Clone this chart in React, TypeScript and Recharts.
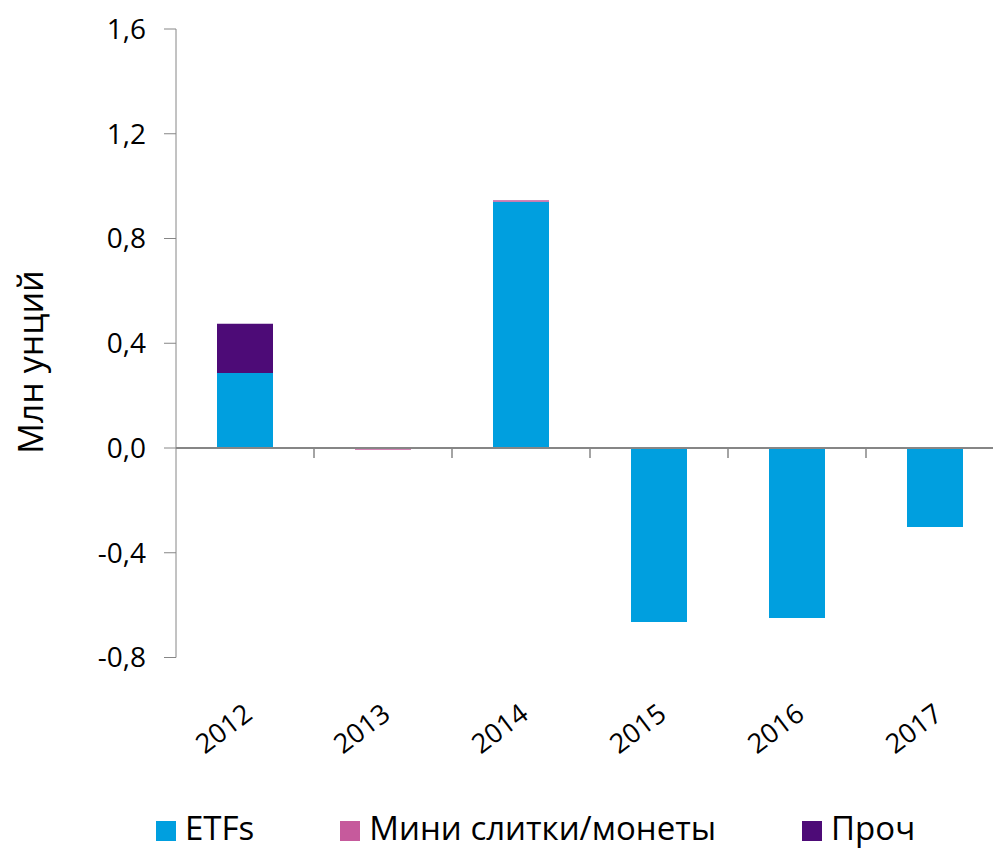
import { BarChart, Bar, XAxis, YAxis, ReferenceLine } from 'recharts';

const years = ['2012', '2013', '2014', '2015', '2016', '2017'];
const etfs = [0.286, 0, 0.94, -0.664, -0.649, -0.302];
const mini = [-0.004, -0.007, 0.006, 0, 0, 0];
const other = [0.188, 0, 0, 0, 0, 0];
const yTicks = [-0.8, -0.4, 0, 0.4, 0.8, 1.2, 1.6];

const SERIES = [
  { key: 'etfs', name: 'ETFs', color: '#009FDF' },
  { key: 'mini', name: 'Мини слитки/монеты', color: '#C65A9C' },
  { key: 'other', name: 'Проч', color: '#4D0B77' },
];

const AXIS = '#868686';
const FONT = '"Open Sans", sans-serif';

const data = years.map((year, i) => ({
  year,
  etfs: etfs[i],
  mini: mini[i],
  other: other[i],
}));

const ZeroLine = (props: any) => {
  const { x1, x2, y1 } = props;
  const step = (x2 - x1) / years.length;
  return (
    <g>
      <line x1={x1} x2={x2 - 11} y1={y1} y2={y1} stroke={AXIS} strokeWidth={2} />
      {years.slice(1).map((_, i) => (
        <line
          key={i}
          x1={x1 + step * (i + 1)}
          x2={x1 + step * (i + 1)}
          y1={y1}
          y2={y1 + 10}
          stroke={AXIS}
          strokeWidth={1.5}
        />
      ))}
    </g>
  );
};

const YearTick = ({ x, y, payload }: any) => (
  <g transform={`translate(${x + 9},${y + 52})`}>
    <text
      textAnchor="end"
      transform="rotate(-37)"
      fontSize={27}
      fontFamily={FONT}
      fill="#000"
    >
      {payload.value}
    </text>
  </g>
);

export default function App() {
  return (
    <div
      style={{
        position: 'absolute',
        left: 0,
        top: 0,
        width: 997,
        height: 851,
        overflow: 'hidden',
        background: '#fff',
      }}
    >
      <BarChart
        width={1010}
        height={851}
        data={data}
        stackOffset="sign"
        barSize={56}
        margin={{ top: 29, right: 6, bottom: 0, left: 0 }}
      >
        <XAxis
          dataKey="year"
          height={193.5}
          axisLine={false}
          tickLine={false}
          tick={<YearTick />}
          interval={0}
        />
        <YAxis
          width={176}
          domain={[-0.8, 1.6]}
          ticks={yTicks}
          allowDataOverflow
          stroke={AXIS}
          tickSize={12}
          tickMargin={18}
          tick={{ fill: '#000', fontSize: 28, fontFamily: FONT }}
          tickFormatter={(v: number) => v.toFixed(1).replace('.', ',')}
          label={() => (
            <text
              x={43}
              y={362}
              transform="rotate(-90, 43, 362)"
              textAnchor="middle"
              fontSize={34}
              fontFamily={FONT}
              fill="#000"
            >
              Млн унций
            </text>
          )}
        />
        {SERIES.map((s) => (
          <Bar
            key={s.key}
            dataKey={s.key}
            name={s.name}
            stackId="a"
            fill={s.color}
            isAnimationActive={false}
          />
        ))}
        <ReferenceLine y={0} shape={<ZeroLine />} />
      </BarChart>
      <div
        style={{
          position: 'absolute',
          left: 156,
          top: 810,
          display: 'flex',
          alignItems: 'center',
          gap: 86,
          fontFamily: FONT,
          fontSize: 33,
          lineHeight: '36px',
          color: '#000',
          whiteSpace: 'nowrap',
        }}
      >
        {SERIES.map((s) => (
          <div key={s.key} style={{ display: 'flex', alignItems: 'center' }}>
            <span
              style={{
                display: 'inline-block',
                width: 20,
                height: 20,
                background: s.color,
                marginRight: 9,
                marginTop: 6,
              }}
            />
            <span>{s.name}</span>
          </div>
        ))}
      </div>
    </div>
  );
}
